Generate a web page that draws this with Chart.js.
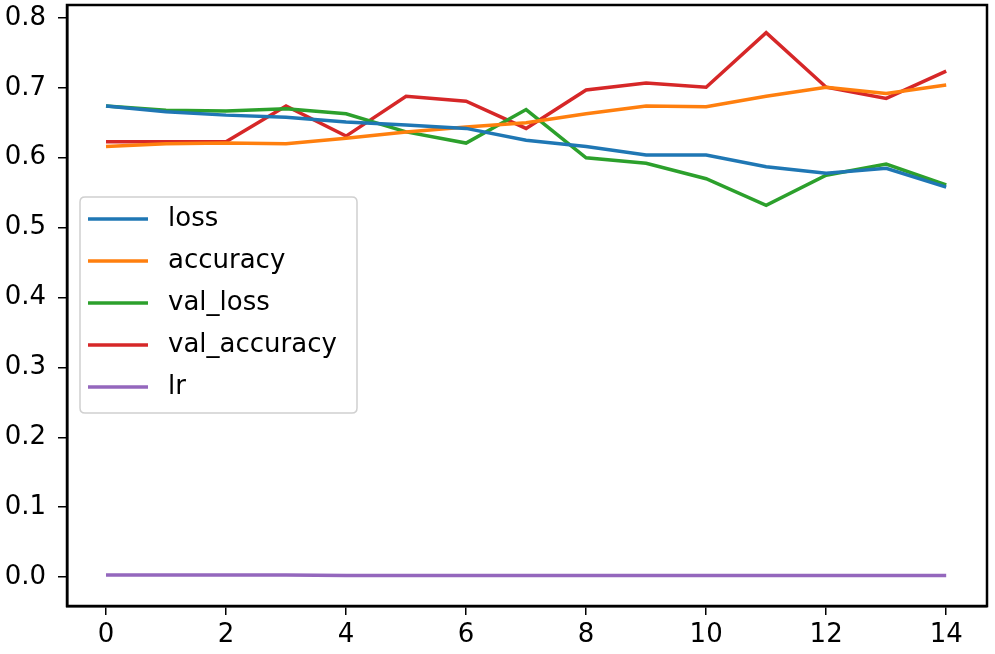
<!DOCTYPE html>
<html>
<head>
<meta charset="utf-8">
<script src="https://cdn.jsdelivr.net/npm/chart.js@4.4.1/dist/chart.umd.min.js"></script>
<style>
  html, body { margin: 0; padding: 0; background: #ffffff; }
  #wrap { width: 995px; height: 654px; position: relative; }
</style>
</head>
<body>
<div id="wrap"><canvas id="c" width="995" height="654"></canvas></div>
<script>
const epochs = [0, 1, 2, 3, 4, 5, 6, 7, 8, 9, 10, 11, 12, 13, 14];
const loss = [0.674, 0.666, 0.661, 0.658, 0.651, 0.647, 0.642, 0.625, 0.616, 0.604, 0.604, 0.587, 0.578, 0.585, 0.558];
const accuracy = [0.616, 0.620, 0.621, 0.620, 0.628, 0.637, 0.644, 0.650, 0.663, 0.674, 0.673, 0.688, 0.701, 0.692, 0.704];
const valLoss = [0.674, 0.668, 0.667, 0.670, 0.663, 0.637, 0.621, 0.669, 0.600, 0.592, 0.570, 0.532, 0.575, 0.591, 0.561];
const valAccuracy = [0.623, 0.623, 0.623, 0.674, 0.631, 0.688, 0.681, 0.642, 0.697, 0.707, 0.701, 0.779, 0.701, 0.685, 0.724];
const lr = [0.003, 0.003, 0.003, 0.003, 0.002, 0.002, 0.002, 0.002, 0.002, 0.002, 0.002, 0.002, 0.002, 0.002, 0.002];
const seriesNames = ['loss', 'accuracy', 'val_loss', 'val_accuracy', 'lr'];
const xTicks = [0, 2, 4, 6, 8, 10, 12, 14];
const yTicks = [0.0, 0.1, 0.2, 0.3, 0.4, 0.5, 0.6, 0.7, 0.8];

const colors = ['#1f77b4', '#ff7f0e', '#2ca02c', '#d62728', '#9467bd'];
const allSeries = [loss, accuracy, valLoss, valAccuracy, lr];
const FONT = 'DejaVu Sans';

const datasets = allSeries.map((s, k) => ({
  label: seriesNames[k],
  data: s.map((v, i) => ({ x: epochs[i], y: v })),
  borderColor: colors[k],
  backgroundColor: colors[k],
  borderWidth: 3.5,
  pointRadius: 0,
  tension: 0,
  fill: false
}));

const framePlugin = {
  id: 'frame',
  afterDraw(chart) {
    const ctx = chart.ctx;
    const a = chart.chartArea;
    ctx.save();
    ctx.strokeStyle = '#000';
    ctx.lineWidth = 2.5;
    ctx.strokeRect(a.left, a.top, a.right - a.left, a.bottom - a.top);

    // legend box
    const bx = 80, by = 197, bw = 277, bh = 216, r = 5;
    ctx.fillStyle = 'rgba(255,255,255,0.8)';
    ctx.strokeStyle = '#d0d0d0';
    ctx.lineWidth = 1.5;
    ctx.beginPath();
    ctx.moveTo(bx + r, by);
    ctx.lineTo(bx + bw - r, by);
    ctx.quadraticCurveTo(bx + bw, by, bx + bw, by + r);
    ctx.lineTo(bx + bw, by + bh - r);
    ctx.quadraticCurveTo(bx + bw, by + bh, bx + bw - r, by + bh);
    ctx.lineTo(bx + r, by + bh);
    ctx.quadraticCurveTo(bx, by + bh, bx, by + bh - r);
    ctx.lineTo(bx, by + r);
    ctx.quadraticCurveTo(bx, by, bx + r, by);
    ctx.closePath();
    ctx.fill();
    ctx.stroke();

    ctx.font = '26px "' + FONT + '"';
    ctx.textBaseline = 'middle';
    ctx.textAlign = 'left';
    chart.data.datasets.forEach((ds, k) => {
      const yy = 219 + k * 42;
      ctx.strokeStyle = ds.borderColor;
      ctx.lineWidth = 3.5;
      ctx.beginPath();
      ctx.moveTo(88, yy);
      ctx.lineTo(148, yy);
      ctx.stroke();
      ctx.fillStyle = '#000';
      ctx.fillText(ds.label, 168, yy);
    });
    ctx.restore();
  }
};

new Chart(document.getElementById('c'), {
  type: 'line',
  data: { datasets },
  plugins: [framePlugin],
  options: {
    responsive: false,
    animation: false,
    devicePixelRatio: 1,
    layout: { padding: { top: 5, right: 8, left: 0, bottom: 0 } },
    plugins: { legend: { display: false }, tooltip: { enabled: false } },
    scales: {
      x: {
        type: 'linear',
        min: -0.65,
        max: 14.68,
        afterBuildTicks(scale) { scale.ticks = xTicks.map(v => ({ value: v })); },
        afterFit(scale) { scale.height = 48; scale.paddingLeft = 0; scale.paddingRight = 0; },
        grid: { drawOnChartArea: false, drawTicks: true, tickLength: 9, color: '#000', lineWidth: 1.5 },
        border: { display: true, color: '#000', width: 2.5 },
        ticks: { color: '#000', font: { family: FONT, size: 26 }, padding: 5, maxRotation: 0, autoSkip: false,
                 callback: v => String(v) }
      },
      y: {
        type: 'linear',
        min: -0.0415,
        max: 0.8186,
        afterBuildTicks(scale) { scale.ticks = yTicks.map(v => ({ value: v })); },
        afterFit(scale) { scale.width = 67; scale.paddingTop = 0; scale.paddingBottom = 0; },
        grid: { drawOnChartArea: false, drawTicks: true, tickLength: 9, color: '#000', lineWidth: 1.5 },
        border: { display: true, color: '#000', width: 2.5 },
        ticks: { color: '#000', font: { family: FONT, size: 26 }, padding: 12, autoSkip: false,
                 callback: v => Number(v).toFixed(1) }
      }
    }
  }
});
</script>
</body>
</html>
